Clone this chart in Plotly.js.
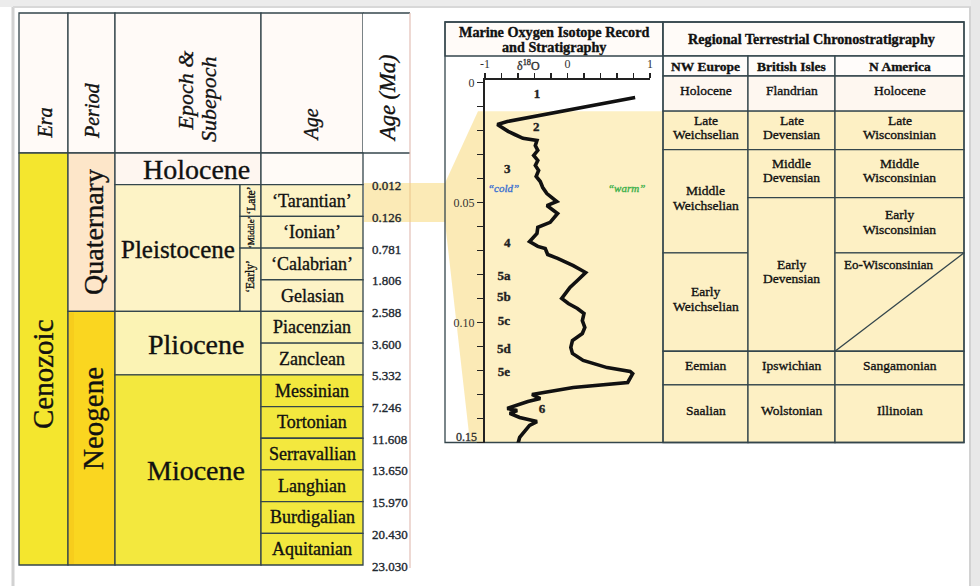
<!DOCTYPE html>
<html><head><meta charset="utf-8">
<script src="https://cdn.plot.ly/plotly-3.0.1.min.js"></script>
<style>html,body{margin:0;padding:0;background:#fff;}#chart{width:980px;height:586px;}</style>
</head><body><div id="chart"></div>
<script>
// ===================== DATA =====================
const eraName = 'Cenozoic';
const periodNames = ['Quaternary', 'Neogene'];
const periodSpans = [5, 8];
const epochNames = ['Holocene', 'Pleistocene', 'Pliocene', 'Miocene'];
const epochSpans = [1, 4, 2, 6];
const subdividedEpoch = 'Pleistocene';
const subepochNames = ['‘Late’', '‘Middle’', '‘Early’'];
const subepochSpans = [1, 1, 2];
const stageNames = ['', '‘Tarantian’', '‘Ionian’', '‘Calabrian’', 'Gelasian', 'Piacenzian', 'Zanclean',
  'Messinian', 'Tortonian', 'Serravallian', 'Langhian', 'Burdigalian', 'Aquitanian'];
const stageBaseMa = ['0.012', '0.126', '0.781', '1.806', '2.588', '3.600', '5.332', '7.246',
  '11.608', '13.650', '15.970', '20.430', '23.030'];
const leftHeaders = ['Era', 'Period', 'Epoch &', 'Subepoch', 'Age', 'Age (Ma)'];

// Marine oxygen isotope record (delta 18O, age in Ma)
const isoD18O = [0.82, -0.73, -0.85, -0.78, -0.72, -0.64, -0.54, -0.37, -0.39, -0.36, -0.41, -0.36, -0.39, -0.35,
  -0.38, -0.33, -0.30, -0.25, -0.13, -0.25, -0.12, -0.21, -0.36, -0.37, -0.46, -0.36, -0.27, -0.24, -0.12, 0.07,
  0.22, 0.12, 0.03, -0.07, 0.01, 0.12, 0.20, 0.18, 0.21, 0.18, 0.06, 0.04, 0.06, 0.19, 0.48, 0.76, 0.79, 0.73,
  0.07, -0.43, -0.33, -0.48, -0.73, -0.61, -0.70, -0.58, -0.37, -0.46, -0.58, -0.60];
const isoAgeMa = [0.0063, 0.0163, 0.0175, 0.0192, 0.0204, 0.0217, 0.0233, 0.0242, 0.0263, 0.0283, 0.0304, 0.0325,
  0.0346, 0.0367, 0.0392, 0.0413, 0.0438, 0.0463, 0.0496, 0.0513, 0.0546, 0.0583, 0.0604, 0.0629, 0.0663, 0.0683,
  0.0692, 0.0717, 0.0733, 0.0763, 0.0792, 0.0825, 0.0854, 0.0900, 0.0921, 0.0942, 0.0963, 0.0992, 0.1021, 0.1046,
  0.1075, 0.1104, 0.1129, 0.1158, 0.1188, 0.1204, 0.1213, 0.1250, 0.1271, 0.1300, 0.1317, 0.1329, 0.1358, 0.1367,
  0.1379, 0.1396, 0.1413, 0.1429, 0.1479, 0.1504];
const misLabels = ['1', '2', '3', '4', '5a', '5b', '5c', '5d', '5e', '6'];
const misX = [-0.37, -0.38, -0.73, -0.73, -0.77, -0.77, -0.77, -0.77, -0.77, -0.31];
const misAgeMa = [0.0052, 0.019, 0.0365, 0.067, 0.081, 0.0898, 0.0998, 0.1115, 0.121, 0.1365];
const isoXLabelVals = [-1, 0, 1];
const isoXLabels = ['-1', '0', '1'];
const isoYLabelVals = [0, 0.05, 0.10];
const isoYLabels = ['0', '0.05', '0.10'];
const isoYBottomLabel = '0.15';

// Regional terrestrial chronostratigraphy (base of each unit, Ma)
const regionHeaders = ['NW Europe', 'British Isles', 'N America'];
const nwEuropeUnits = ['Holocene', 'Late<br>Weichselian', 'Middle<br>Weichselian', 'Early<br>Weichselian', 'Eemian', 'Saalian'];
const nwEuropeBaseMa = [0.012, 0.028, 0.071, 0.112, 0.126, 0.15];
const britishUnits = ['Flandrian', 'Late<br>Devensian', 'Middle<br>Devensian', 'Early<br>Devensian', 'Ipswichian', 'Wolstonian'];
const britishBaseMa = [0.012, 0.028, 0.048, 0.112, 0.126, 0.15];
const nAmericaUnits = ['Holocene', 'Late<br>Wisconsinian', 'Middle<br>Wisconsinian', 'Early<br>Wisconsinian', 'Eo-Wisconsinian', 'Sangamonian', 'Illinoian'];
const nAmericaBaseMa = [0.012, 0.028, 0.048, 0.071, 0.112, 0.126, 0.15];

// ===================== LAYOUT / STYLE =====================
const FONT = '"Liberation Serif", "Times New Roman", serif';
const INK = '#111111';
const LINE = '#34464c';
const shapes = [], annotations = [];
function rect(x0, y0, x1, y1, fill, lc, lw) {
  shapes.push({type: 'rect', xref: 'x', yref: 'y', x0, y0, x1, y1, layer: 'below',
    fillcolor: fill || 'rgba(0,0,0,0)', line: {color: lc || 'rgba(0,0,0,0)', width: lc ? (lw || 1.3) : 0}});
}
function seg(x0, y0, x1, y1, color, w) {
  shapes.push({type: 'line', xref: 'x', yref: 'y', x0, y0, x1, y1, layer: 'below', line: {color: color || LINE, width: w || 1.3}});
}
function txt(x, y, t, size, opt) {
  annotations.push(Object.assign({xref: 'x', yref: 'y', x, y, text: t, showarrow: false,
    font: {family: FONT, size, color: INK}, xanchor: 'center', yanchor: 'middle', borderpad: 0}, opt || {}));
}
function multi(x, y, t, size, lh, opt) {
  const lines = t.split('<br>');
  lines.forEach((s, k) => txt(x, y + (k - (lines.length - 1) / 2) * lh, s, size, opt));
}

// frame
rect(0, 0, 980, 7, '#ececec');
rect(971, 0, 980, 586, '#e8e8e8');
seg(13, 7, 13, 586, '#d2d2d2', 3);
seg(13, 7, 971, 7, '#d8d8d8', 2);
seg(970, 7, 970, 586, '#d2d2d2', 2);

// ---------- left table ----------
const LX = {era: 19, period: 68, epoch: 115, sub: 240, stage: 261, age: 363, right: 410};
const LT = 13, LHB = 153, LB = 565;
const rowH = (LB - LHB) / stageNames.length;
const rowY = i => LHB + i * rowH;
const epochFill = {Holocene: '#fef6f0', Pleistocene: '#fdf3c6', Pliocene: '#fbf3b4', Miocene: '#f3e83e'};
const stageFill = {Holocene: '#fffbf7', Pleistocene: '#fdf3c6', Pliocene: '#fbf3b4', Miocene: '#f3e83e'};
const periodFill = ['#fde6c9', '#fad620'];
const subepochSize = [11.5, 9, 11.5];

// header
const hdrFill = '#fffaf7';
[[LX.era, LX.period], [LX.period, LX.epoch], [LX.epoch, LX.stage], [LX.stage, LX.age]].forEach(c => rect(c[0], LT, c[1], LHB, hdrFill, LINE));
rect(LX.age, LT, LX.right, LB + 3, '#ffffff');
seg(LX.age, LT, LX.right, LT); seg(LX.age, LHB, LX.right, LHB);
seg(LX.right, LT, LX.right, LB + 3, '#e3bfb6', 1.2);

const R = {x0: 445, iso0: 485, iso1: 650, div: 663, cols: [663, 748, 835, 964], top: 22, hb: 56, sb: 76, bottom: 442.5};
const Y2 = {top: 80, range: [0.15, -0.001]};
const maPx = v => Y2.top + (v - Y2.range[1]) * (R.bottom - Y2.top) / (Y2.range[0] - Y2.range[1]);

// era
rect(LX.era, LHB, LX.period, LB, '#f4e62e', LINE);
// periods
let r = 0;
periodNames.forEach((p, i) => {
  rect(LX.period, rowY(r), LX.epoch, rowY(r + periodSpans[i]), periodFill[i], LINE);
  if (i === 1) rect(LX.period + 1, rowY(r) + 1, LX.period + 6, rowY(r + periodSpans[i]) - 1, '#f7cd1c');
  r += periodSpans[i];
});
// epochs + stages
r = 0;
const epochOfRow = [];
epochNames.forEach((e, i) => {
  const sub = e === subdividedEpoch;
  const x1 = sub ? LX.sub : LX.stage;
  rect(LX.epoch, rowY(r), x1, rowY(r + epochSpans[i]), epochFill[e], LINE);
  if (sub) {
    let rs = r;
    subepochNames.forEach((s, k) => {
      rect(LX.sub, rowY(rs), LX.stage, rowY(rs + subepochSpans[k]), epochFill[e], LINE);
      txt((LX.sub + LX.stage) / 2 + 0.5, (rowY(rs) + rowY(rs + subepochSpans[k])) / 2 + (k === 2 ? -3 : 0), s, subepochSize[k], {textangle: -90});
      rs += subepochSpans[k];
    });
  }
  for (let k = 0; k < epochSpans[i]; k++) epochOfRow.push(e);
  txt(sub ? (LX.epoch + x1) / 2 : (LX.epoch + x1) / 2 + 8, (rowY(r) + rowY(r + epochSpans[i])) / 2 + 1, e, sub ? 25 : 28);
  r += epochSpans[i];
});
stageNames.forEach((s, i) => {
  rect(LX.stage, rowY(i), LX.age, rowY(i + 1), stageFill[epochOfRow[i]], LINE);
  if (s) txt((LX.stage + LX.age) / 2, rowY(i + 0.5), s, 18);
});
// highlight band (Tarantian -> isotope record)
shapes.push({type: 'path', xref: 'x', yref: 'y', layer: 'below', line: {width: 0},
  fillcolor: 'rgba(248,214,110,0.5)',
  path: `M${LX.age + 1},183 L${R.x0},183 L478,${maPx(0.012)} L${R.iso0},${maPx(0.012)} L${R.iso0},${R.bottom} L470,${R.bottom} L${R.x0},222 L${LX.age + 1},222 Z`});
stageBaseMa.forEach((a, i) => txt(LX.age + 8, rowY(i + 1) + 1, a, 13, {xanchor: 'left', font: {family: FONT, size: 13, color: '#1e2830'}}));

// era/period text
txt(43, 374, eraName, 29, {textangle: -90});
txt(93, 232, periodNames[0], 28, {textangle: -90});
txt(93, 419, periodNames[1], 29, {textangle: -90});
// headers
const hi = t => '<i>' + t + '</i>';
txt(44, 140, hi(leftHeaders[0]), 20, {textangle: -90, yanchor: 'bottom'});
txt(92, 140, hi(leftHeaders[1]), 20, {textangle: -90, yanchor: 'bottom'});
txt(185, 132, hi(leftHeaders[2]), 22, {textangle: -90, yanchor: 'bottom'});
txt(208, 143, hi(leftHeaders[3]), 22, {textangle: -90, yanchor: 'bottom'});
txt(311, 143, hi(leftHeaders[4]), 20, {textangle: -90, yanchor: 'bottom'});
txt(387, 143, hi(leftHeaders[5]), 22.5, {textangle: -90, yanchor: 'bottom'});

// ---------- right panel ----------
rect(R.x0, R.top, R.div, R.hb, '#fffbf8', LINE);
rect(R.div, R.top, R.cols[3], R.hb, '#fffbf8', LINE);
rect(R.iso0, maPx(0.012), R.div, R.bottom, '#fdf0c4');
regionHeaders.forEach((h, i) => {
  rect(R.cols[i], R.hb, R.cols[i + 1], R.sb, '#fffcfa', LINE);
  txt((R.cols[i] + R.cols[i + 1]) / 2, (R.hb + R.sb) / 2, '<b>' + h + '</b>', 13.5);
});
[[nwEuropeUnits, nwEuropeBaseMa], [britishUnits, britishBaseMa], [nAmericaUnits, nAmericaBaseMa]].forEach((col, ci) => {
  const x0 = R.cols[ci], x1 = R.cols[ci + 1];
  let top = R.sb;
  col[0].forEach((u, k) => {
    const bot = maPx(col[1][k]);
    rect(x0, top, x1, bot, k === 0 ? '#fef7f0' : '#fdf0c4', LINE);
    if (u === 'Eo-Wisconsinian') {
      seg(x0, bot, x1, top);
      txt(x0 + 8, top + 12, u, 13, {xanchor: 'left'});
    } else {
      multi((x0 + x1) / 2, (top + bot) / 2 - 3, u, 13.5, 14.5);
    }
    top = bot;
  });
});
rect(R.x0, R.top, R.cols[3], R.bottom, null, LINE);
seg(R.div, R.top, R.div, R.bottom);
txt((R.x0 + R.div) / 2, 32, '<b>Marine Oxygen Isotope Record</b>', 14.2);
txt((R.x0 + R.div) / 2, 47, '<b>and Stratigraphy</b>', 14.2);
txt(811, 39, '<b>Regional Terrestrial Chronostratigraphy</b>', 14.2);

// isotope plot annotations
annotations.push({xref: 'x2', yref: 'y', x: -0.47, y: 65, text: 'δ<sup>18</sup>O', showarrow: false,
  font: {family: FONT, size: 12, color: '#333'}});
annotations.push({xref: 'paper', yref: 'y2', x: R.iso0 / 980 - 0.006, y: 0.1475, xanchor: 'right', text: isoYBottomLabel, showarrow: false,
  font: {family: FONT, size: 12, color: '#333'}});
annotations.push({xref: 'x2', yref: 'y2', x: -0.78, y: 0.044, text: '<i>“cold”</i>', showarrow: false,
  font: {family: FONT, size: 11, color: '#3b6fd0'}});
annotations.push({xref: 'x2', yref: 'y2', x: 0.72, y: 0.044, text: '<i>“warm”</i>', showarrow: false,
  font: {family: FONT, size: 11, color: '#3cb04a'}});

const traces = [
  {type: 'scatter', mode: 'lines', x: isoD18O, y: isoAgeMa, xaxis: 'x2', yaxis: 'y2',
    line: {color: '#111', width: 3.6}, hoverinfo: 'skip'},
  {type: 'scatter', mode: 'text', x: misX, y: misAgeMa, xaxis: 'x2', yaxis: 'y2',
    text: misLabels.map(s => '<b>' + s + '</b>'), textposition: 'middle center',
    textfont: {family: FONT, size: 13, color: '#222'}, hoverinfo: 'skip'}
];

const layout = {
  width: 980, height: 586, margin: {l: 0, r: 0, t: 0, b: 0}, showlegend: false,
  paper_bgcolor: '#ffffff', plot_bgcolor: 'rgba(0,0,0,0)', hovermode: false,
  xaxis: {range: [0, 980], visible: false, fixedrange: true, domain: [0, 1]},
  yaxis: {range: [586, 0], visible: false, fixedrange: true, domain: [0, 1]},
  xaxis2: {domain: [R.iso0 / 980, R.iso1 / 980], anchor: 'y2', side: 'top', range: [-1, 1],
    tickmode: 'array', tickvals: isoXLabelVals, ticktext: isoXLabels, ticks: 'outside', ticklen: 5, tickwidth: 1.3,
    minor: {tick0: -1, dtick: 0.2, ticks: 'outside', ticklen: 5, tickwidth: 1.3, tickcolor: '#222', showgrid: false},
    tickcolor: '#222', showline: true, linecolor: '#222', linewidth: 2, showgrid: false, zeroline: false,
    tickfont: {family: FONT, size: 12, color: '#333'}, fixedrange: true},
  yaxis2: {domain: [1 - R.bottom / 586, 1 - Y2.top / 586], anchor: 'x2', range: Y2.range,
    tickmode: 'array', tickvals: isoYLabelVals, ticktext: isoYLabels, ticks: 'outside', ticklen: 6, tickwidth: 1.3,
    minor: {tick0: 0, dtick: 0.01, ticks: 'outside', ticklen: 6, tickwidth: 1.3, tickcolor: '#222', showgrid: false},
    tickcolor: '#222', showline: true, linecolor: '#222', linewidth: 2, showgrid: false, zeroline: false,
    tickfont: {family: FONT, size: 12, color: '#333'}, fixedrange: true},
  shapes, annotations
};
Plotly.newPlot('chart', traces, layout, {staticPlot: true, displayModeBar: false}).then(gd => {
  // slightly heavier strokes to mimic the reference typeface
  gd.querySelectorAll('text.annotation-text, .xtick text, .ytick text, .textpoint text').forEach(t => {
    const f = t.style.fill || '#111';
    t.style.stroke = f;
    t.style.strokeWidth = '0.35px';
  });
});
</script>
</body></html>
